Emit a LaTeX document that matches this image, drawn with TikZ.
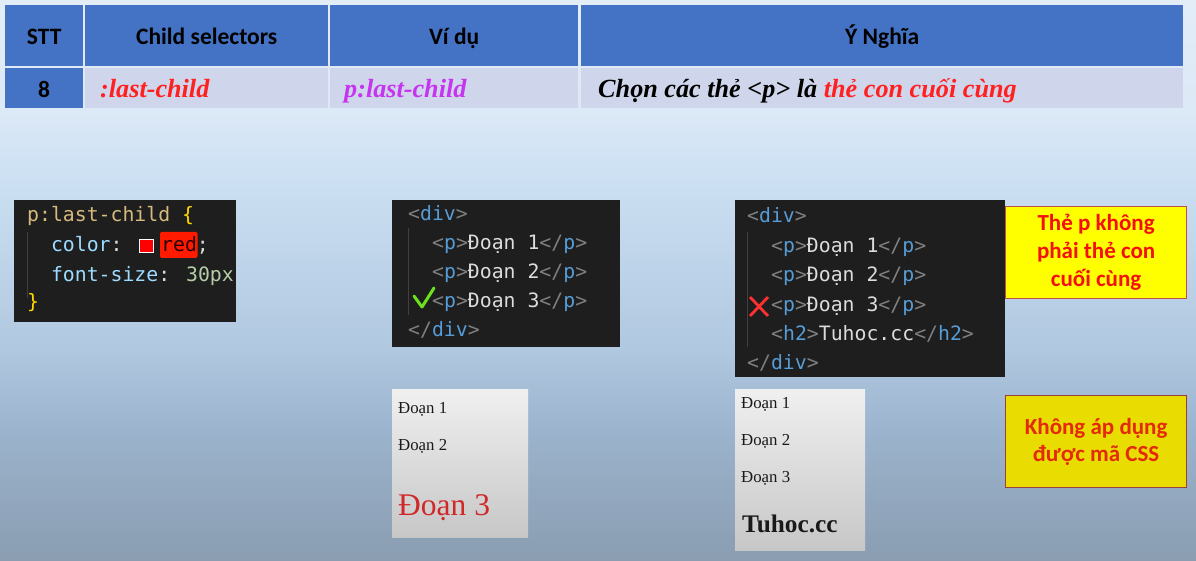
\documentclass[tikz,border=0pt]{standalone}
\usepackage{fontspec}
\setmainfont{Liberation Serif}
\newfontfamily\calfont{Carlito}
\newfontfamily\monofont{DejaVu Sans Mono}

\definecolor{hdr}{HTML}{4472C4}
\definecolor{bodyc}{HTML}{CFD5EA}
\definecolor{codebg}{HTML}{1E1E1E}
\definecolor{cbr}{HTML}{808080}
\definecolor{ctag}{HTML}{569CD6}
\definecolor{ctxt}{HTML}{DCDCDC}
\definecolor{csel}{HTML}{D7BA7D}
\definecolor{cbrace}{HTML}{FFD700}
\definecolor{cprop}{HTML}{9CDCFE}
\definecolor{cnum}{HTML}{B5CEA8}
\definecolor{bg0}{HTML}{8A9DB1}
\definecolor{bg1}{HTML}{9BB3CC}
\definecolor{bg2}{HTML}{B0C8E0}
\definecolor{bg3}{HTML}{CFE2F4}
\definecolor{bg4}{HTML}{DCE9F6}
\definecolor{bg5}{HTML}{E2EDF8}
\definecolor{selred}{HTML}{FF2020}
\definecolor{selmag}{HTML}{C634F0}
\definecolor{hlred}{HTML}{FF1A00}
\definecolor{okgreen}{HTML}{6CE01C}
\definecolor{xred}{HTML}{FF3030}
\definecolor{ybox}{HTML}{FFFF00}
\definecolor{ybox2}{HTML}{E8DC00}
\definecolor{yborder}{HTML}{C0504D}
\definecolor{ytext}{HTML}{F51010}
\definecolor{ytext2}{HTML}{E42A0A}
\definecolor{guide}{HTML}{404040}
\definecolor{resred}{HTML}{D02828}

\pgfdeclareverticalshading{bgshade}{100bp}{color(0bp)=(bg0); color(25bp)=(bg0); color(36.5bp)=(bg1); color(44bp)=(bg2); color(60.5bp)=(bg3); color(65bp)=(bg4); color(75bp)=(bg5); color(100bp)=(bg5)}

\newcommand{\tg}[1]{\textcolor{cbr}{<}\textcolor{ctag}{#1}\textcolor{cbr}{>}}
\newcommand{\etg}[1]{\textcolor{cbr}{</}\textcolor{ctag}{#1}\textcolor{cbr}{>}}

\begin{document}
\begin{tikzpicture}[x=1pt,y=-1pt,
  cellh/.style={fill=hdr, inner sep=0pt, anchor=north west, text=black,
    text height=20pt, text depth=2pt,
    font=\calfont\bfseries\fontsize{23.5}{26}\selectfont},
  cellb/.style={fill=bodyc, inner sep=0pt, anchor=north west},
  seltxt/.style={anchor=base west, inner sep=0pt,
    font=\bfseries\itshape\fontsize{26.2}{28}\selectfont},
  codebox/.style={fill=codebg, inner sep=0pt, anchor=north west},
  codetxt/.style={anchor=base west, inner sep=0pt, text=ctxt,
    font=\monofont\fontsize{19.8}{22}\selectfont},
  guideline/.style={draw=guide, line width=0.8pt},
  resbox/.style={anchor=north west, inner sep=0pt, top color=black!6, bottom color=black!22},
  restxt/.style={anchor=base west, inner sep=0pt, text=black!90,
    font=\fontsize{16.8}{18}\selectfont},
  note/.style={anchor=north west, inner sep=0pt, draw=yborder, line width=1.2pt,
    minimum width=181pt, minimum height=92pt, align=center,
    font=\calfont\bfseries\fontsize{23}{28}\selectfont}
]
\useasboundingbox (0,0) rectangle (1196,561);
\shade[shading=bgshade] (0,0) rectangle (1196,561);

% table header
\node[cellh, minimum width=78pt, minimum height=61pt] (hstt) at (5,5) {STT};
\node[cellh, minimum width=243pt, minimum height=61pt] (hsel) at (85,5) {Child selectors};
\node[cellh, minimum width=248pt, minimum height=61pt] (hvd) at (330,5) {Ví dụ};
\node[cellh, minimum width=602pt, minimum height=61pt] (hyn) at (581,5) {Ý Nghĩa};
% table body
\node[cellh, minimum width=78pt, minimum height=40pt] (bstt) at (5,68) {8};
\node[cellb, minimum width=243pt, minimum height=40pt] (bsel) at (85,68) {};
\node[cellb, minimum width=248pt, minimum height=40pt] (bvd) at (330,68) {};
\node[cellb, minimum width=602pt, minimum height=40pt] (byn) at (581,68) {};
\node[seltxt, text=selred] (tsel) at (100,98) {:last-child};
\node[seltxt, text=selmag] (tvd) at (344,98) {p:last-child};
\node[seltxt, text=black] (tyn) at (598,98) {Chọn các thẻ <p> là \textcolor{selred}{thẻ con cuối cùng}};

% CSS code box
\node[codebox, minimum width=222pt, minimum height=122pt] (css) at (14,200) {};
\begin{scope}
\clip (css.north west) rectangle (css.south east);
\draw[guideline] (27,232) -- (27,298);
\node[codetxt] (c1) at (27,222) {\textcolor{csel}{p:last-child} \textcolor{cbrace}{\{}};
\node[codetxt] (c2) at (50.8,252) {\textcolor{cprop}{color}:};
\draw[white, fill=red, line width=1pt] (139,240) rectangle (153,253);
\fill[hlred, rounded corners=2pt] (160,232) rectangle (197.5,258);
\node[codetxt] (c2b) at (161,252) {\textcolor{black!85!red}{red};};
\node[codetxt] (c3) at (50.8,281) {\textcolor{cprop}{font-size}: \textcolor{cnum}{30px};};
\node[codetxt] (c4) at (27,308) {\textcolor{cbrace}{\}}};
\end{scope}

% HTML box 1
\node[codebox, minimum width=228pt, minimum height=147pt] (html1) at (392,200) {};
\draw[guideline] (408,228) -- (408,315);
\node[codetxt] (a1) at (408,220.5) {\tg{div}};
\node[codetxt] (a2) at (432,249.5) {\tg{p}Đoạn 1\etg{p}};
\node[codetxt] (a3) at (432,278.5) {\tg{p}Đoạn 2\etg{p}};
\node[codetxt] (a4) at (432,307.5) {\tg{p}Đoạn 3\etg{p}};
\node[codetxt] (a5) at (408,336) {\etg{div}};
\draw[okgreen, line width=3pt, line cap=round, line join=round] (414,296) -- (422,307) -- (434,288);

% HTML box 2
\node[codebox, minimum width=270pt, minimum height=177pt] (html2) at (735,200) {};
\draw[guideline] (747,232) -- (747,347);
\node[codetxt] (b1) at (747,223) {\tg{div}};
\node[codetxt] (b2) at (771,252.5) {\tg{p}Đoạn 1\etg{p}};
\node[codetxt] (b3) at (771,282) {\tg{p}Đoạn 2\etg{p}};
\node[codetxt] (b4) at (771,311.5) {\tg{p}Đoạn 3\etg{p}};
\node[codetxt] (b5) at (771,340.5) {\tg{h2}Tuhoc.cc\etg{h2}};
\node[codetxt] (b6) at (747,369) {\etg{div}};
\draw[xred, line width=2.8pt] (750,297) -- (768,316) (768,297) -- (750,316);

% notes
\node[note, fill=ybox, text=ytext] (n1) at (1005,206) {Thẻ p không\\phải thẻ con\\cuối cùng};
\node[note, fill=ybox2, text=ytext2, draw=yborder!80!black, font=\calfont\bfseries\fontsize{23}{27}\selectfont] (n2) at (1005,395) {Không áp dụng\\được mã CSS};

% result boxes
\node[resbox, minimum width=136pt, minimum height=148pt] (r1) at (392,389) {};
\node[restxt] (r1a) at (398,413) {Đoạn 1};
\node[restxt] (r1b) at (398,450) {Đoạn 2};
\node[restxt, text=resred, font=\fontsize{31.5}{34}\selectfont] (r1c) at (398,515) {Đoạn 3};

\node[resbox, minimum width=130pt, minimum height=161pt] (r2) at (735,389) {};
\node[restxt] (r2a) at (741,408) {Đoạn 1};
\node[restxt] (r2b) at (741,445) {Đoạn 2};
\node[restxt] (r2c) at (741,482) {Đoạn 3};
\node[restxt, font=\bfseries\fontsize{25.3}{28}\selectfont] (r2d) at (742,532) {Tuhoc.cc};
\end{tikzpicture}
\end{document}
